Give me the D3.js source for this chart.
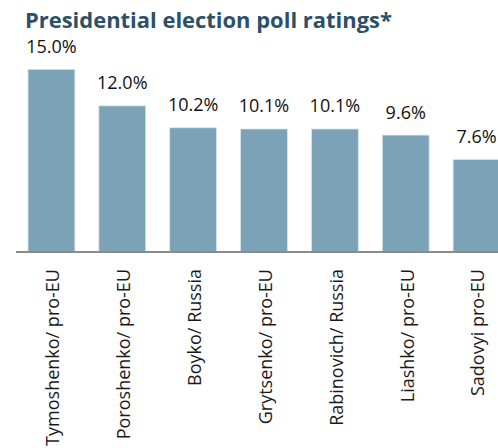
<!DOCTYPE html>
<html><head><meta charset="utf-8">
<script src="https://cdn.jsdelivr.net/npm/d3@7"></script>
<style>html,body{margin:0;padding:0;background:#fff;}svg{display:block;}</style>
</head><body>
<svg id="c" width="498" height="448"></svg>
<script>
const categories = ["Tymoshenko/ pro-EU","Poroshenko/ pro-EU","Boyko/ Russia","Grytsenko/ pro-EU","Rabinovich/ Russia","Liashko/ pro-EU","Sadovyi pro-EU"];
const values = [15.0, 12.0, 10.2, 10.1, 10.1, 9.6, 7.6];
const valueLabels = ["15.0%","12.0%","10.2%","10.1%","10.1%","9.6%","7.6%"];
const title = "Presidential election poll ratings*";

const svg = d3.select("#c");
const font = "'Open Sans', sans-serif";
const base = 252;
const x = d3.scaleBand().domain(categories).range([16, 512]).paddingInner(0.338).paddingOuter(0.169);
const y = d3.scaleLinear().domain([0, 15]).range([base, 69.3]);

const t = svg.append("text").attr("x", 25).attr("y", 28)
  .attr("font-family", font).attr("font-weight", "bold").attr("font-size", 20)
  .attr("fill", "#2d5068").text(title);
const w = t.node().getComputedTextLength();
t.attr("font-size", 20 * 367 / w);

svg.selectAll("rect.bar").data(values).enter().append("rect")
  .attr("class", "bar")
  .attr("x", (d, i) => x(categories[i]))
  .attr("width", x.bandwidth())
  .attr("y", d => y(d))
  .attr("height", d => base - y(d))
  .attr("fill", "#7ba2b7")
  .attr("stroke", "#dbe7ee").attr("stroke-width", 0.8);

svg.selectAll("text.val").data(values).enter().append("text")
  .attr("class", "val")
  .attr("x", (d, i) => x(categories[i]) + x.bandwidth() / 2)
  .attr("y", d => y(d) - 16.5)
  .attr("text-anchor", "middle")
  .attr("font-family", font).attr("font-size", 18).attr("fill", "#111")
  .text((d, i) => valueLabels[i]);

const xAxis = d3.axisBottom(x).tickSize(0).tickPadding(0);
const g = svg.append("g").attr("transform", `translate(0,${base})`).call(xAxis);
g.select(".domain").attr("d", "M16,0H498").attr("stroke", "#8a8a8a").attr("stroke-width", 2);
g.selectAll(".tick text")
  .attr("font-family", font).attr("font-size", 18).attr("fill", "#1a1a1a")
  .attr("text-anchor", "end")
  .attr("transform", "rotate(-90)")
  .attr("x", -17).attr("y", 1.5).attr("dy", "0.35em");
</script>
</body></html>
